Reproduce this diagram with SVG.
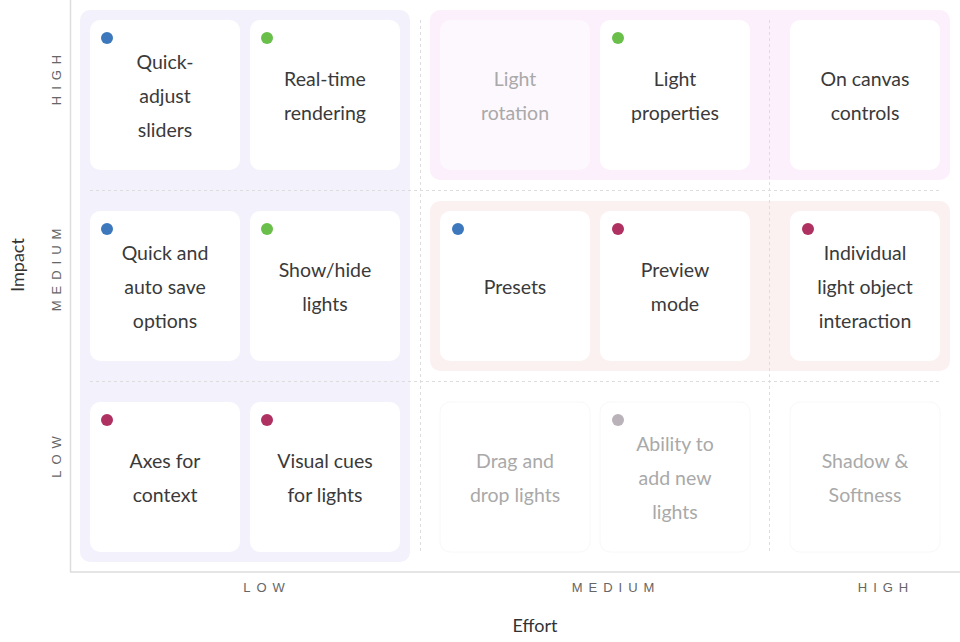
<svg xmlns="http://www.w3.org/2000/svg" width="960" height="642" viewBox="0 0 960 642">
<style>
.card{fill:#ffffff}
.faded{fill:#ffffff;stroke:#f8f8f8;stroke-width:1}
.t{font-family:Lato,"Open Sans",sans-serif;font-size:19.5px;fill:#3a3a3a;text-anchor:middle}
.tf{font-family:Lato,"Open Sans",sans-serif;font-size:19.5px;fill:#a9a9a9;text-anchor:middle}
.ax{font-family:"Liberation Sans",Arial,sans-serif;font-size:13px;fill:#666666;letter-spacing:6px;text-anchor:middle}
.title{font-family:Lato,"Liberation Sans",sans-serif;font-size:18px;fill:#333333;text-anchor:middle}
.grid{stroke:#dddddd;stroke-width:1;stroke-dasharray:3 3;fill:none}
.axis{stroke:#dddddd;stroke-width:1.5;fill:none}
.blue{fill:#3d78bd}.green{fill:#6abf4b}.red{fill:#ae3162}.gray{fill:#b9b3b9}
</style>
<rect width="960" height="642" fill="#ffffff"/>
<g id="regions">
<rect x="80" y="10" width="330" height="552" rx="10" fill="#f2f1fc"/>
<rect x="430" y="10" width="520" height="170" rx="10" fill="#fbf0fb"/>
<rect x="430" y="201" width="520" height="170" rx="10" fill="#fcf1f1"/>
</g>
<g id="grid">
<line class="grid" x1="90" y1="190.5" x2="940" y2="190.5"/>
<line class="grid" x1="90" y1="381.5" x2="940" y2="381.5"/>
<line class="grid" x1="420.5" y1="20" x2="420.5" y2="552"/>
<line class="grid" x1="769.5" y1="20" x2="769.5" y2="552"/>
</g>
<g id="axes">
<line class="axis" x1="70.5" y1="0" x2="70.5" y2="572"/>
<line class="axis" x1="70" y1="572" x2="960" y2="572"/>
<text class="ax" transform="translate(61,77) rotate(-90)">HIGH</text>
<text class="ax" transform="translate(61,267) rotate(-90)">MEDIUM</text>
<text class="ax" transform="translate(61,454) rotate(-90)">LOW</text>
<text class="ax" x="267" y="592">LOW</text>
<text class="ax" x="616" y="592">MEDIUM</text>
<text class="ax" x="886" y="592">HIGH</text>
<text class="title" x="535" y="632">Effort</text>
<text class="title" transform="translate(24,265) rotate(-90)">Impact</text>
</g>
<g id="n1"><rect class="card" x="90" y="20" width="150" height="150" rx="10"/><circle class="blue" cx="107" cy="38" r="6"/><text class="t" x="165" y="69">Quick-</text><text class="t" x="165" y="103">adjust</text><text class="t" x="165" y="137">sliders</text></g>
<g id="n2"><rect class="card" x="250" y="20" width="150" height="150" rx="10"/><circle class="green" cx="267" cy="38" r="6"/><text class="t" x="325" y="86">Real-time</text><text class="t" x="325" y="120">rendering</text></g>
<g id="n3"><rect x="440" y="20" width="150" height="150" rx="10" fill="#fdf8fd"/><text class="tf" x="515" y="86">Light</text><text class="tf" x="515" y="120">rotation</text></g>
<g id="n4"><rect class="card" x="600" y="20" width="150" height="150" rx="10"/><circle class="green" cx="618" cy="38" r="6"/><text class="t" x="675" y="86">Light</text><text class="t" x="675" y="120">properties</text></g>
<g id="n5"><rect class="card" x="790" y="20" width="150" height="150" rx="10"/><text class="t" x="865" y="86">On canvas</text><text class="t" x="865" y="120">controls</text></g>
<g id="n6"><rect class="card" x="90" y="211" width="150" height="150" rx="10"/><circle class="blue" cx="107" cy="229" r="6"/><text class="t" x="165" y="260">Quick and</text><text class="t" x="165" y="294">auto save</text><text class="t" x="165" y="328">options</text></g>
<g id="n7"><rect class="card" x="250" y="211" width="150" height="150" rx="10"/><circle class="green" cx="267" cy="229" r="6"/><text class="t" x="325" y="277">Show/hide</text><text class="t" x="325" y="311">lights</text></g>
<g id="n8"><rect class="card" x="440" y="211" width="150" height="150" rx="10"/><circle class="blue" cx="458" cy="229" r="6"/><text class="t" x="515" y="294">Presets</text></g>
<g id="n9"><rect class="card" x="600" y="211" width="150" height="150" rx="10"/><circle class="red" cx="618" cy="229" r="6"/><text class="t" x="675" y="277">Preview</text><text class="t" x="675" y="311">mode</text></g>
<g id="n10"><rect class="card" x="790" y="211" width="150" height="150" rx="10"/><circle class="red" cx="808" cy="229" r="6"/><text class="t" x="865" y="260">Individual</text><text class="t" x="865" y="294">light object</text><text class="t" x="865" y="328">interaction</text></g>
<g id="n11"><rect class="card" x="90" y="402" width="150" height="150" rx="10"/><circle class="red" cx="107" cy="420" r="6"/><text class="t" x="165" y="468">Axes for</text><text class="t" x="165" y="502">context</text></g>
<g id="n12"><rect class="card" x="250" y="402" width="150" height="150" rx="10"/><circle class="red" cx="267" cy="420" r="6"/><text class="t" x="325" y="468">Visual cues</text><text class="t" x="325" y="502">for lights</text></g>
<g id="n13"><rect class="faded" x="440" y="402" width="150" height="150" rx="10"/><text class="tf" x="515" y="468">Drag and</text><text class="tf" x="515" y="502">drop lights</text></g>
<g id="n14"><rect class="faded" x="600" y="402" width="150" height="150" rx="10"/><circle class="gray" cx="618" cy="420" r="6"/><text class="tf" x="675" y="451">Ability to</text><text class="tf" x="675" y="485">add new</text><text class="tf" x="675" y="519">lights</text></g>
<g id="n15"><rect class="faded" x="790" y="402" width="150" height="150" rx="10"/><text class="tf" x="865" y="468">Shadow &amp;</text><text class="tf" x="865" y="502">Softness</text></g>
</svg>
